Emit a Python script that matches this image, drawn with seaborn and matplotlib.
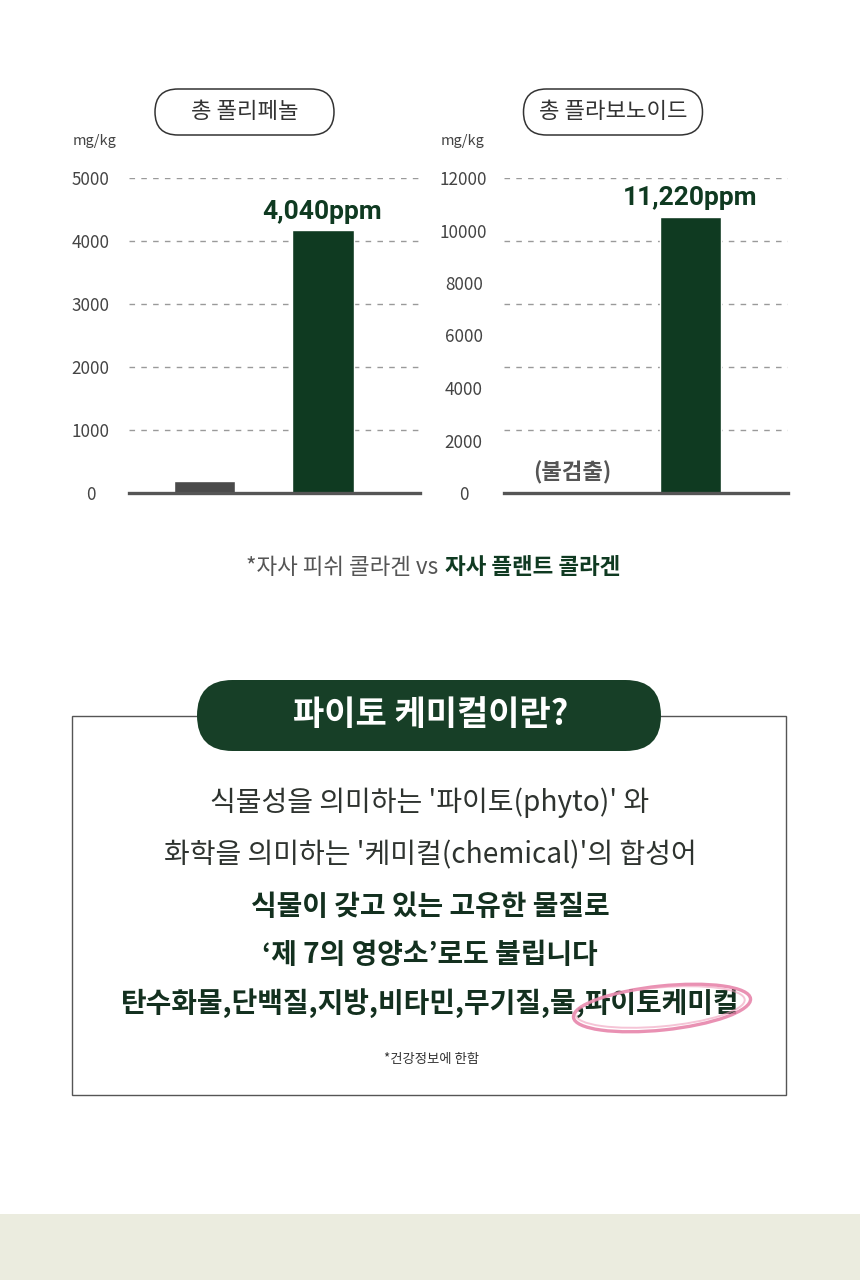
import numpy as np
import pandas as pd
import matplotlib
matplotlib.use("Agg")
import matplotlib.pyplot as plt
import seaborn as sns
from matplotlib.patches import FancyBboxPatch, Rectangle, Ellipse
from matplotlib.ticker import MultipleLocator

# ---------------- data ----------------
products = ["자사 피쉬 콜라겐", "자사 플랜트 콜라겐"]
polyphenol_values = [185, 4175]          # bar heights as drawn (mg/kg)
flavonoid_values = [0, 10530]            # bar heights as drawn (mg/kg)
polyphenol_labels = ["", "4,040ppm"]
flavonoid_labels = ["(불검출)", "11,220ppm"]
polyphenol_ticks = [0, 1000, 2000, 3000, 4000, 5000]
flavonoid_ticks = [0, 2000, 4000, 6000, 8000, 10000, 12000]
chart_titles = ["총 폴리페놀", "총 플라보노이드"]
unit_label = "mg/kg"
legend_left = "*자사 피쉬 콜라겐 vs"
legend_right = "자사 플랜트 콜라겐"
box_title = "파이토 케미컬이란?"
box_lines_regular = ["식물성을 의미하는 '파이토(phyto)' 와",
                     "화학을 의미하는 '케미컬(chemical)'의 합성어"]
box_lines_bold = ["식물이 갖고 있는 고유한 물질로",
                  "‘제 7의 영양소’로도 불립니다",
                  "탄수화물,단백질,지방,비타민,무기질,물,파이토케미컬"]
box_note = "*건강정보에 한함"

# ---------------- style ----------------
sns.set_theme(style="white")
plt.rcParams["font.family"] = ["Noto Sans CJK KR", "DejaVu Sans"]

GRAY_BAR = "#4a4a4a"
GREEN = "#0f3a21"
PILL_GREEN = "#173f27"
TEXT_GRAY = "#444444"
BODY = "#2e332f"

W, H = 860, 1280
fig = plt.figure(figsize=(W / 100, H / 100), dpi=100)
fig.patch.set_facecolor("white")

# overlay axes in pixel coordinates
ov = fig.add_axes([0, 0, 1, 1], zorder=0)
ov.set_xlim(0, W)
ov.set_ylim(H, 0)
ov.axis("off")


def chart(ax_rect, values, ticks, ymax, grid_step, xlim, pad):
    l, r, t, b = ax_rect
    ax = fig.add_axes([l / W, 1 - b / H, (r - l) / W, (b - t) / H], zorder=2)
    ax.patch.set_alpha(0)
    df = pd.DataFrame({"product": products, "value": values})
    sns.barplot(data=df, x="product", y="value", hue="product",
                palette=[GRAY_BAR, GREEN], legend=False, width=0.525,
                saturation=1, ax=ax, zorder=3)
    ax.set_xlim(*xlim)
    ax.set_ylim(0, ymax)
    ax.set_xlabel("")
    ax.set_ylabel("")
    ax.set_xticks([])
    ax.set_yticks(ticks)
    ax.set_yticklabels([str(v) for v in ticks])
    ax.yaxis.remove_overlapping_locs = False
    ax.yaxis.set_minor_locator(MultipleLocator(grid_step))
    ax.tick_params(axis="y", which="both", length=0, labelsize=12.3,
                   labelcolor=TEXT_GRAY, pad=pad)
    for lab in ax.get_yticklabels():
        lab.set_horizontalalignment("center")
    ax.grid(False)
    ax.yaxis.grid(True, which="minor", color="#9a9a9a", linestyle=(0, (4, 4.5)),
                  linewidth=1.0)
    ax.set_axisbelow(True)
    for s in ["top", "right", "left"]:
        ax.spines[s].set_visible(False)
    ax.spines["bottom"].set_color("#555555")
    ax.spines["bottom"].set_linewidth(2.4)
    ax.spines["bottom"].set_zorder(4)
    return ax


# left chart
axL = chart((129, 420, 178, 493), polyphenol_values, polyphenol_ticks,
            5000, 1000, (-0.64, 1.826), 27.5)
axL.text(1, polyphenol_values[1] + 100, polyphenol_labels[1], ha="center",
         va="bottom", fontsize=19, fontweight="bold", color=GREEN, zorder=5,
         fontfamily=["Roboto", "DejaVu Sans"])

# right chart
axR = chart((504, 788, 178, 493), flavonoid_values, flavonoid_ticks,
            12000, 2400, (-0.58, 1.826), 29)
axR.text(1, flavonoid_values[1] + 260, flavonoid_labels[1], ha="center",
         va="bottom", fontsize=19, fontweight="bold", color=GREEN, zorder=5,
         fontfamily=["Roboto", "DejaVu Sans"])
axR.annotate(flavonoid_labels[0], xy=(0, 0), xytext=(0, 6),
             textcoords="offset points", ha="center", va="bottom",
             fontsize=16, fontweight="bold", color="#555555")

# pills above charts
for cx, title in zip([244.5, 613], chart_titles):
    ov.add_patch(FancyBboxPatch((cx - 89.5, 89), 179, 46,
                                boxstyle="round,pad=0,rounding_size=23",
                                facecolor="white", edgecolor="#333333",
                                linewidth=1.1))
    ov.text(cx, 112, title, ha="center", va="center", fontsize=16,
            color="#333333")

# unit labels
ov.text(95, 141, unit_label, ha="center", va="center", fontsize=10.5,
        color=TEXT_GRAY)
ov.text(463, 141, unit_label, ha="center", va="center", fontsize=10.5,
        color=TEXT_GRAY)

# legend line
ov.text(438, 568, legend_left, ha="right", va="center", fontsize=16.2,
        color="#555555")
ov.text(445, 568, legend_right, ha="left", va="center", fontsize=16.2,
        fontweight="bold", color=GREEN)

# info box
ov.add_patch(Rectangle((72, 716), 714, 379, facecolor="none",
                       edgecolor="#555555", linewidth=1.0))
ov.add_patch(FancyBboxPatch((197, 680), 464, 71,
                            boxstyle="round,pad=0,rounding_size=35.5",
                            facecolor=PILL_GREEN, edgecolor="none"))
ov.text(431, 715, box_title, ha="center", va="center", fontsize=24.5,
        fontweight="bold", color="white")

ys_reg = [803, 855]
for y, line in zip(ys_reg, box_lines_regular):
    ov.text(430, y, line, ha="center", va="center", fontsize=20.2, color=BODY)
ys_bold = [907, 955, 1003]
for y, line in zip(ys_bold, box_lines_bold):
    ov.text(430, y, line, ha="center", va="center", fontsize=20.1,
            fontweight="bold", color="#13301f")
ov.text(431, 1059, box_note, ha="center", va="center", fontsize=9.6,
        color="#333333")

# pink highlight loop
ov.add_patch(Ellipse((662, 1008), 178, 44, angle=-6, facecolor="none",
                     edgecolor="#e67ea6", linewidth=2.4, alpha=0.85, zorder=3))
ov.add_patch(Ellipse((660, 1007), 170, 39, angle=-5, facecolor="none",
                     edgecolor="#ef9dbb", linewidth=1.4, alpha=0.6, zorder=3))

# bottom strip
ov.add_patch(Rectangle((0, 1214), W, 66, facecolor="#ebecdf",
                       edgecolor="none"))

fig.savefig("out.png", dpi=100, facecolor="white")
